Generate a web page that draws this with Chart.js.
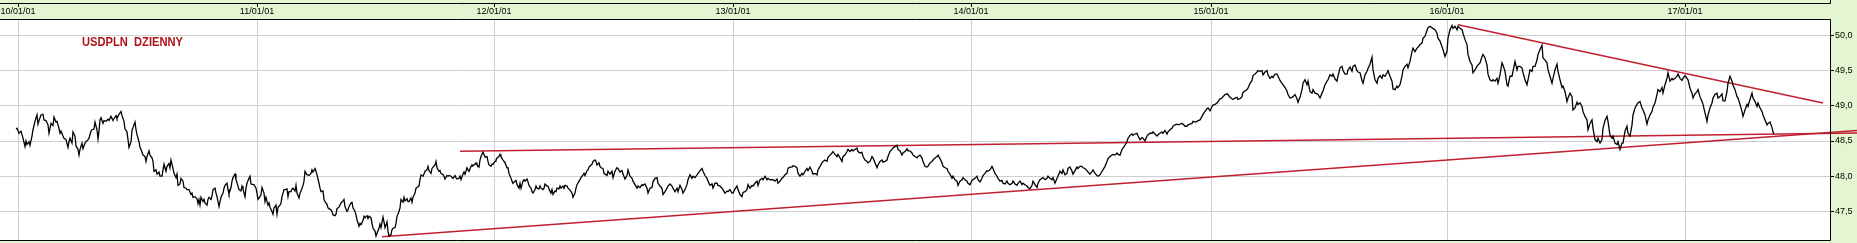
<!DOCTYPE html>
<html>
<head>
<meta charset="utf-8">
<title>USDPLN dzienny</title>
<script src="https://cdn.jsdelivr.net/npm/chart.js@4.4.1/dist/chart.umd.min.js"></script>
<style>
  html, body { margin: 0; padding: 0; background: #e3f6d1; overflow: hidden; }
  canvas { display: block; }
</style>
</head>
<body>
<canvas id="chart" width="1857" height="243"></canvas>
<script>
// trading day index (0 = 10/01/01) and daily close
const days = [
  -2,-1,1,3,4,5,7,8,9,11,
  12,14,15,17,19,20,21,23,25,26,
  28,30,31,33,35,36,38,39,41,42,
  43,45,46,48,50,51,52,54,55,57,
  58,60,61,62,64,65,67,68,70,71,
  73,74,76,77,79,80,81,82,83,85,
  86,88,90,91,93,95,96,98,99,101,
  103,104,106,107,109,110,111,113,114,115,
  117,118,119,121,122,123,125,127,128,129,
  131,132,134,135,136,138,139,141,142,144,
  145,146,148,149,151,152,153,155,156,158,
  159,160,162,163,165,166,168,169,171,173,
  174,175,177,179,180,181,182,183,185,186,
  187,189,190,191,193,194,195,197,198,199,
  201,202,203,205,206,207,209,210,211,213,
  214,215,217,218,220,221,223,224,225,227,
  228,229,231,232,233,235,236,238,239,240,
  242,243,244,246,247,248,250,251,252,254,
  255,256,258,259,260,262,263,264,266,267,
  269,270,271,273,274,275,277,278,279,281,
  282,283,285,286,287,289,290,
  291,293,294,295,297,298,299,301,302,303,
  305,306,307,309,310,311,313,314,315,317,
  318,319,321,322,323,325,326,327,329,330,
  331,333,334,335,337,338,339,341,342,343,
  345,346,347,349,350,351,353,354,355,357,
  358,359,361,362,363,365,366,367,369,370,
  371,373,374,375,377,378,379,381,382,383,
  385,386,387,389,390,391,393,394,395,397,
  398,399,401,402,403,405,406,407,409,410,
  411,413,414,415,417,418,419,421,422,423,
  425,426,427,429,430,431,433,434,435,437,
  438,439,441,442,443,445,446,447,449,450,
  451,453,454,455,457,458,459,461,462,463,
  465,466,467,469,470,471,473,474,475,477,
  478,479,481,482,483,485,486,487,489,490,
  491,493,494,495,497,498,499,501,502,503,
  505,506,507,509,510,511,513,514,515,517,
  518,519,521,522,523,525,526,527,529,530,
  531,533,534,535,537,538,539,541,542,543,
  545,546,547,549,550,551,553,554,555,557,
  558,559,561,562,563,565,566,567,569,570,
  571,573,574,575,577,578,579,581,582,583,
  585,586,587,589,590,
  592,594,595,597,599,600,602,604,605,607,
  609,610,612,614,615,617,619,620,622,624,
  625,627,629,630,632,634,635,637,639,640,
  642,644,645,647,649,650,652,654,655,657,
  659,660,662,664,665,667,669,670,672,674,
  675,677,679,680,682,684,685,687,689,690,
  692,694,695,697,699,700,702,704,705,707,
  709,710,712,714,715,717,719,720,722,724,
  725,727,729,730,732,734,735,737,739,740,
  742,744,745,747,749,750,752,754,755,757,
  759,760,762,764,765,767,769,770,772,774,
  775,777,779,780,782,784,785,787,789,790,
  792,794,795,797,799,800,802,804,805,807,
  809,810,812,814,815,817,819,820,822,824,
  825,827,829,830,832,834,835,837,839,840,
  842,844,845,847,849,850,852,854,855,857,
  859,860,862,864,865,867,869,870,872,874,
  875,877,879,880,882,884,885,887,889,890,
  892,894,895,897,899,900,902,904,905,907,
  909,910,912,914,915,917,919,920,922,924,
  925,927,929,930,932,934,935,937,939,940,
  942,944,945,947,949,950,952,954,955,957,
  959,960,962,964,965,967,969,970,972,974,
  975,977,979,980,982,984,985,987,989,990,
  992,994,995,997,999,1000,1002,1004,1005,1007,
  1009,1010,1012,1014,1015,1017,1019,1020,1022,1024,
  1025,1027,1029,1030,1032,1034,1035,1037,1039,1040,
  1042,1044,1045,1047,1049,1050,1052,1054,1055,1057,
  1059,1060,1062,1064,1065,1067,1069,1070,1072,1074,
  1075,1077,1079,1080,1082,1084,1085,1087,1089,1090,
  1092,1094,1095,1097,1099,1100,1102,1104,1105,1107,
  1109,1110,1112,1114,1115,1117,1119,1120,1122,1124,
  1125,1127,1129,1130,1132,1134,1135,1137,1139,1140,
  1142,1144,1145,1147,1149,1150,1152,1154,1155,1157,
  1159,1160,1162,1164,1165,1167,1169,1170,1172,1174,
  1175,1177,1179,1180,1182,1184,1185,1187,1189,1190,
  1192,1194,1195,1197,1199,1200,1202,1204,1205,1207,
  1209,1210,1212,1214,1215,1217,1219,1220,1222,1224,
  1225,1227,1229,1230,1232,1234,1235,1237,1239,1240,
  1242,1244,1245,1247,1249,1250,1252,1254,1255,1257,
  1259,1260,1262,1264,1265,1267,1269,1270,1272,1274,
  1275,1277,1279,1280,1282,1284,1285,1287,1289,1290,
  1292,1294,1295,1297,1299,1300,1302,1304,1305,1307,
  1309,1310,1312,1314,1315,1317,1319,1320,1322,1324,
  1325,1327,1329,1330,1332,1334,1335,1337,1339,1340,
  1342,1344,1345,1347,1349,1350,1352,1354,1355,1357,
  1359,1360,1362,1364,1365,1367,1369,1370,1372,1374,
  1375,1377,1379,1380,1382,1384,1385,1387,1389,1390,
  1392,1394,1395,1397,1399,1400,1402,1404,1405,1407,
  1409,1410,1412,1414,1415,1417,1419,1420,1422,1424,
  1425,1427,1429,1430,1432,1434,1435,1437,1439,1440,
  1442,1444,1445,1447,1449,1450,1452,1454,1455,1457,
  1459,1460,1462,1464,1465,1467,1469,1470,1472,1474,
  1475,1477,1479,1480,1482,1484,1485,1487,1489,1490,
  1492,1494,1495,1497,1499,1500,1502,1504,1505,1507,
  1509,1510,1512,1514,1515,1517,1519,1520,1522,1524,
  1525,1527,1529,1530,1532,1534,1535,1537,1539,1540,
  1542,1544,1545,1547,1549,1550,1552,1554,1555,1557,
  1559,1560,1562,1564,1565,1567,1569,1570,1572,1574,
  1575,1577,1579,1580,1582,1584,1585,1587,1589,1590,
  1592,1594,1595,1597,1599,1600,1602,1604,1605,1607,
  1609,1610,1612,1614,1615,1617,1619,1620,1622,1624,
  1625,1627,1629,1630,1632,1634,1635,1637,1639,1640,
  1642,1644,1645,1647,1649,1650,1652,1654,1655,1657,
  1659,1660,1662,1664,1665,1667,1669,1670,1672,1674,
  1675,1677,1679,1680,1682,1684,1685,1687,1689,1690,
  1692,1694,1695,1697,1699,1700,1702,1704,1705,1707,
  1709,1710,1712,1714,1715,1717,1719,1720,1722,1724,
  1725,1727,1729,1730,1732,1734,1735,1737,1739,1740,
  1742,1744,1745,1747,1749,1750,1752,1754,1755,1756
];

const usdpln = [
  48.67,48.68,48.61,48.64,48.59,48.54,48.42,48.50,48.45,48.49,
  48.44,48.57,48.66,48.78,48.87,48.74,48.79,48.87,48.88,48.80,
  48.79,48.73,48.61,48.75,48.72,48.84,48.77,48.78,48.68,48.61,
  48.64,48.57,48.54,48.52,48.41,48.49,48.54,48.47,48.63,48.57,
  48.43,48.38,48.30,48.38,48.47,48.39,48.47,48.49,48.52,48.54,
  48.64,48.66,48.67,48.77,48.66,48.53,48.64,48.80,48.83,48.75,
  48.79,48.78,48.81,48.79,48.85,48.79,48.82,48.86,48.82,48.88,
  48.92,48.86,48.78,48.67,48.63,48.52,48.41,48.49,48.65,48.69,
  48.77,48.66,48.59,48.49,48.41,48.38,48.30,48.28,48.21,48.28,
  48.36,48.30,48.26,48.21,48.07,48.09,48.03,48.06,48.00,48.00,
  48.09,48.17,48.07,48.14,48.18,48.12,48.23,48.11,48.04,47.98,
  48.03,47.87,47.89,47.97,47.93,47.84,47.83,47.81,47.81,47.74,
  47.76,47.70,47.71,47.68,47.61,47.67,47.59,47.70,47.64,47.67,
  47.62,47.59,47.67,47.70,47.67,47.72,47.81,47.83,47.76,47.71,
  47.57,47.64,47.70,47.76,47.83,47.87,47.90,47.81,47.75,47.84,
  47.93,47.98,48.03,47.95,47.86,47.81,47.79,47.86,47.82,47.71,
  47.83,47.90,47.97,48.00,47.89,47.88,47.88,47.83,47.76,47.67,
  47.71,47.74,47.84,47.76,47.64,47.70,47.59,47.62,47.56,47.50,
  47.46,47.55,47.59,47.46,47.56,47.59,47.62,47.71,47.81,47.81,
  47.82,47.71,47.78,47.78,47.82,47.83,47.79,47.87,47.76,47.69,
  47.76,47.79,47.87,47.93,48.07,48.02,48.02,
  48.01,48.04,48.09,48.06,48.11,48.07,48.02,47.90,47.83,47.78,
  47.79,47.67,47.64,47.60,47.55,47.54,47.52,47.50,47.45,47.44,
  47.46,47.54,47.56,47.59,47.62,47.65,47.67,47.57,47.50,47.52,
  47.57,47.62,47.63,47.55,47.50,47.45,47.38,47.29,47.33,47.31,
  47.37,47.43,47.41,47.44,47.40,47.43,47.41,47.33,47.26,47.22,
  47.15,47.19,47.26,47.32,47.27,47.42,47.35,47.27,47.35,47.22,
  47.15,47.17,47.24,47.26,47.27,47.33,47.43,47.50,47.55,47.67,
  47.63,47.70,47.65,47.68,47.64,47.64,47.69,47.63,47.70,47.76,
  47.83,47.84,47.86,47.95,48.02,48.00,48.03,48.07,48.09,48.14,
  48.08,48.04,48.11,48.13,48.16,48.21,48.12,48.07,48.08,48.04,
  48.02,48.00,47.96,48.01,48.00,48.01,48.00,47.98,47.97,48.01,
  47.98,47.96,47.97,48.00,47.95,48.03,48.06,48.03,48.12,48.09,
  48.07,48.14,48.16,48.15,48.17,48.19,48.16,48.13,48.23,48.28,
  48.34,48.31,48.27,48.28,48.21,48.16,48.14,48.17,48.17,48.21,
  48.23,48.26,48.28,48.31,48.28,48.23,48.21,48.19,48.12,48.12,
  48.04,47.97,47.93,47.90,47.93,47.94,47.88,47.83,47.90,47.83,
  47.93,47.95,47.93,47.96,47.92,47.87,47.83,47.78,47.76,47.81,
  47.86,47.83,47.82,47.86,47.83,47.81,47.83,47.89,47.86,47.86,
  47.82,47.76,47.81,47.74,47.79,47.78,47.83,47.82,47.86,47.83,
  47.86,47.83,47.87,47.86,47.83,47.82,47.78,47.76,47.70,47.76,
  47.83,47.88,47.93,47.95,47.98,48.02,48.04,48.01,48.08,48.09,
  48.13,48.16,48.17,48.21,48.23,48.21,48.16,48.19,48.14,48.12,
  48.11,48.04,48.03,48.01,48.07,
  48.03,48.07,47.98,48.07,48.12,48.11,48.06,48.08,48.03,47.96,
  48.01,48.09,48.00,47.97,47.93,47.88,47.83,47.86,47.84,47.88,
  47.87,47.89,47.83,47.76,47.83,47.84,47.92,47.97,47.98,47.90,
  47.86,47.83,47.74,47.78,47.83,47.86,47.89,47.86,47.83,47.78,
  47.83,47.78,47.87,47.81,47.76,47.81,47.88,47.95,48.02,47.97,
  48.00,47.98,48.02,48.04,48.08,48.11,48.07,48.01,47.97,47.93,
  47.87,47.89,47.83,47.90,47.90,47.87,47.86,47.83,47.81,47.76,
  47.79,47.78,47.81,47.76,47.76,47.82,47.86,47.81,47.74,47.71,
  47.77,47.78,47.81,47.88,47.83,47.87,47.86,47.90,47.93,47.87,
  47.95,47.97,47.95,48.00,47.95,47.97,47.95,47.95,47.95,47.93,
  47.96,47.90,47.93,47.97,47.98,48.02,48.04,48.11,48.13,48.13,
  48.15,48.14,48.12,48.04,48.00,48.04,48.02,48.07,48.11,48.08,
  48.13,48.07,48.03,48.04,48.02,48.09,48.14,48.19,48.21,48.23,
  48.21,48.27,48.30,48.33,48.35,48.31,48.28,48.31,48.26,48.21,
  48.28,48.30,48.35,48.38,48.35,48.38,48.36,48.38,48.40,48.35,
  48.33,48.34,48.28,48.23,48.21,48.19,48.21,48.28,48.26,48.19,
  48.12,48.16,48.21,48.23,48.20,48.21,48.23,48.28,48.35,48.38,
  48.40,48.42,48.44,48.38,48.36,48.30,48.33,48.35,48.39,48.36,
  48.36,48.33,48.30,48.28,48.26,48.28,48.30,48.26,48.21,48.14,
  48.13,48.14,48.19,48.21,48.23,48.26,48.28,48.30,48.25,48.19,
  48.14,48.12,48.11,48.07,48.03,47.97,48.00,47.95,47.93,47.87,
  47.93,47.95,47.98,47.95,47.93,47.90,47.88,47.94,47.95,47.97,
  48.00,47.95,47.92,47.97,48.01,48.04,48.08,48.07,48.09,48.14,
  48.11,48.04,48.00,47.97,47.93,47.94,47.90,47.89,47.93,47.90,
  47.88,47.90,47.93,47.89,47.87,47.90,47.93,47.88,47.90,47.88,
  47.86,47.84,47.82,47.87,47.93,47.88,47.84,47.90,47.95,47.97,
  47.98,47.95,47.97,48.00,47.97,47.95,47.98,47.90,47.97,48.00,
  48.07,48.04,48.09,48.02,48.04,48.11,48.13,48.07,48.03,48.08,
  48.13,48.11,48.14,48.14,48.12,48.11,48.08,48.06,48.03,48.07,
  48.09,48.04,48.01,48.00,48.02,48.07,48.09,48.14,48.21,48.25,
  48.28,48.30,48.31,48.30,48.33,48.31,48.30,48.38,48.40,48.44,
  48.49,48.54,48.58,48.60,48.58,48.60,48.61,48.57,48.52,48.55,
  48.54,48.50,48.57,48.59,48.61,48.61,48.63,48.60,48.57,48.59,
  48.61,48.63,48.61,48.65,48.60,48.63,48.66,48.68,48.71,48.73,
  48.74,48.73,48.74,48.75,48.74,48.71,48.71,48.73,48.74,48.75,
  48.78,48.77,48.78,48.79,48.80,48.85,48.88,48.92,48.96,48.97,
  48.93,48.99,49.01,49.02,49.04,49.06,49.10,49.11,49.13,49.16,
  49.17,49.16,49.12,49.10,49.09,49.11,49.12,49.09,49.10,49.13,
  49.19,49.21,49.23,49.25,49.32,49.36,49.43,49.45,49.48,49.50,
  49.49,49.50,49.44,49.48,49.50,49.44,49.39,49.42,49.40,49.45,
  49.45,49.42,49.36,49.32,49.30,49.26,49.21,49.16,49.11,49.12,
  49.13,49.16,49.10,49.05,49.12,49.23,49.32,49.37,49.30,49.35,
  49.20,49.18,49.23,49.18,49.17,49.16,49.11,49.18,49.21,49.30,
  49.35,49.37,49.44,49.42,49.45,49.38,49.35,49.42,49.54,49.56,
  49.50,49.45,49.45,49.51,49.55,49.49,49.56,49.58,49.50,49.48,
  49.47,49.36,49.32,49.44,49.49,49.53,49.59,49.69,49.51,49.37,
  49.32,49.39,49.43,49.39,49.44,49.42,49.47,49.50,49.42,49.35,
  49.24,49.23,49.28,49.26,49.30,49.42,49.51,49.56,49.59,49.54,
  49.63,49.77,49.82,49.77,49.82,49.83,49.87,49.89,49.96,49.99,
  50.07,50.11,50.13,50.11,50.10,50.08,50.03,49.96,49.92,49.84,
  49.80,49.70,49.77,49.96,50.08,50.14,50.10,50.13,50.08,50.13,
  50.10,50.08,50.03,49.94,49.87,49.73,49.63,49.58,49.47,49.51,
  49.56,49.58,49.61,49.70,49.73,49.68,49.58,49.45,49.37,49.35,
  49.37,49.35,49.39,49.32,49.44,49.61,49.58,49.49,49.30,49.28,
  49.42,49.42,49.49,49.63,49.51,49.56,49.56,49.54,49.47,49.37,
  49.30,49.37,49.51,49.49,49.56,49.56,49.65,49.73,49.80,49.86,
  49.68,49.65,49.61,49.51,49.42,49.32,49.39,49.51,49.59,49.49,
  49.37,49.26,49.28,49.20,49.06,49.11,49.18,49.13,48.94,48.97,
  49.05,49.02,49.04,48.99,48.92,48.85,48.80,48.66,48.75,48.80,
  48.68,48.52,48.49,48.54,48.47,48.52,48.68,48.79,48.85,48.78,
  48.58,48.54,48.57,48.47,48.45,48.49,48.38,48.47,48.47,48.64,
  48.71,48.61,48.57,48.73,48.87,48.97,49.02,49.04,49.06,48.97,
  48.94,48.87,48.74,48.80,48.87,48.92,48.98,49.04,49.16,49.23,
  49.20,49.26,49.18,49.30,49.39,49.47,49.35,49.39,49.37,49.39,
  49.42,49.45,49.39,49.36,49.39,49.43,49.39,49.37,49.25,49.18,
  49.11,49.17,49.20,49.23,49.13,49.06,49.02,48.90,48.78,48.87,
  48.97,49.04,49.11,49.16,49.18,49.11,49.13,49.17,49.07,49.07,
  49.20,49.32,49.42,49.35,49.29,49.23,49.13,49.11,49.02,48.92,
  48.85,48.94,49.02,48.99,49.09,49.18,49.11,49.06,48.99,49.04,
  48.97,48.92,48.87,48.80,48.73,48.75,48.77,48.69,48.63,48.60
];

// hand drawn trend lines (start / end)
const supportDays = [364, 1839];
const supportVals = [47.14, 48.65];
const rangeTopDays = [442, 1839];
const rangeTopVals = [48.355, 48.615];
const resistDays = [1440, 1805];
const resistVals = [50.15, 49.04];

const yearTicks = [0, 239, 476, 715, 953, 1193, 1429, 1667];
const yearLabels = ["10/01/01", "11/01/01", "12/01/01", "13/01/01", "14/01/01", "15/01/01", "16/01/01", "17/01/01"];
const priceTicks = [47.5, 48.0, 48.5, 49.0, 49.5, 50.0];

const title = "USDPLN  DZIENNY";
const GREEN = "#e3f6d1";
const RED = "#c0202e";
const GRID = "#cfcfcf";
const FONT = "'Liberation Sans', Arial, sans-serif";

function pts(xs, ys) {
  return xs.map((x, i) => ({ x: x, y: ys[i] }));
}

const frame = {
  id: "frame",
  beforeDraw(chart) {
    const c = chart.ctx, a = chart.chartArea;
    c.save();
    c.fillStyle = GREEN;
    c.fillRect(0, 0, chart.width, chart.height);
    c.fillStyle = "#fff";
    c.fillRect(a.left, a.top, a.right - a.left, a.bottom - a.top);
    c.restore();
  },
  afterDraw(chart) {
    const c = chart.ctx, a = chart.chartArea, xs = chart.scales.x;
    c.save();
    c.strokeStyle = "#000";
    c.lineWidth = 1;
    c.beginPath();
    c.moveTo(0, 3.5); c.lineTo(a.right + 0.5, 3.5); c.lineTo(a.right + 0.5, 0);
    c.moveTo(0, a.top + 0.5); c.lineTo(a.right + 0.5, a.top + 0.5);
    c.lineTo(a.right + 0.5, a.bottom + 0.5); c.lineTo(0, a.bottom + 0.5);
    yearTicks.forEach(d => {
      const px = Math.round(xs.getPixelForValue(d)) + 0.5;
      c.moveTo(px, 3); c.lineTo(px, 7);
    });
    c.stroke();
    c.fillStyle = "#b0121c";
    c.font = "bold 13px " + FONT;
    c.textBaseline = "alphabetic";
    c.fillText(title, 82, 46, 101);
    c.restore();
  }
};

new Chart(document.getElementById("chart"), {
  type: "line",
  data: {
    datasets: [
      { data: pts(days, usdpln), borderColor: "#000", borderWidth: 1.3, pointRadius: 0, tension: 0 },
      { data: pts(supportDays, supportVals), borderColor: RED, borderWidth: 1.5, pointRadius: 0, clip: false },
      { data: pts(rangeTopDays, rangeTopVals), borderColor: RED, borderWidth: 1.5, pointRadius: 0, clip: false },
      { data: pts(resistDays, resistVals), borderColor: RED, borderWidth: 1.5, pointRadius: 0, clip: false }
    ]
  },
  options: {
    responsive: false,
    animation: false,
    events: [],
    layout: { padding: { left: 0, right: 0, top: 0, bottom: 3 } },
    plugins: { legend: { display: false }, tooltip: { enabled: false } },
    scales: {
      x: {
        type: "linear",
        position: "top",
        min: -18,
        max: 1812,
        grid: { color: GRID, drawTicks: false },
        border: { display: false },
        ticks: {
          autoSkip: false, maxRotation: 0, padding: 2, color: "#000",
          font: { family: FONT, size: 9 },
          callback: (v, i) => yearLabels[i]
        },
        afterBuildTicks: s => { s.ticks = yearTicks.map(v => ({ value: v })); },
        afterFit: s => { s.height = 19; s.paddingLeft = 0; s.paddingRight = 0; }
      },
      y: {
        position: "right",
        min: 47.094,
        max: 50.233,
        grid: { color: GRID, tickColor: "#000", tickLength: 4 },
        border: { display: false },
        ticks: {
          padding: 1, color: "#000",
          font: { family: FONT, size: 9 },
          callback: v => v.toFixed(1).replace(".", ",")
        },
        afterBuildTicks: s => { s.ticks = priceTicks.map(v => ({ value: v })); },
        afterFit: s => { s.width = 27; s.paddingTop = 0; s.paddingBottom = 0; }
      }
    }
  },
  plugins: [frame]
});
</script>
</body>
</html>
